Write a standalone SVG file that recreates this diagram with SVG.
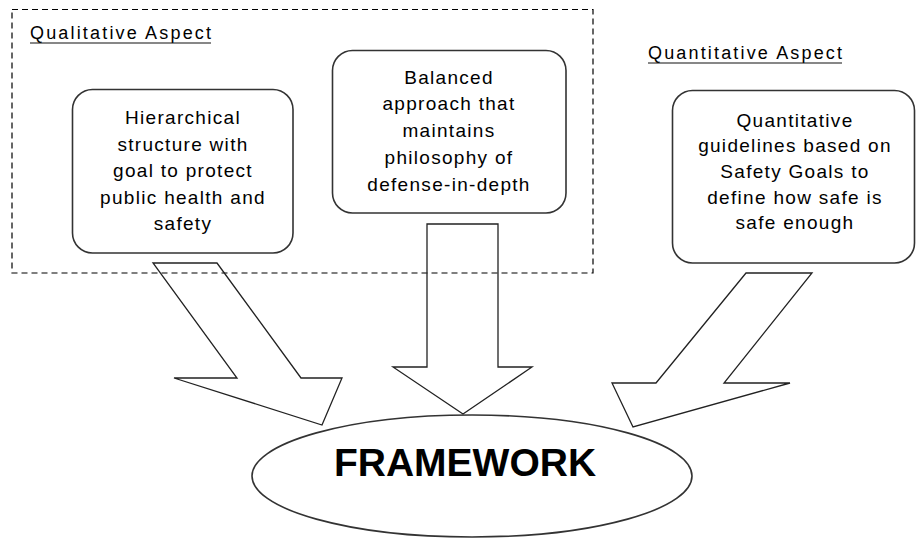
<svg xmlns="http://www.w3.org/2000/svg" width="916" height="540" viewBox="0 0 916 540">
<style>
.bg{fill:#ffffff}
.group{fill:none;stroke:#000;stroke-width:1.2;stroke-dasharray:6,4}
.box{fill:none;stroke:#333;stroke-width:1.6}
.arrow{fill:none;stroke:#222;stroke-width:1.3;stroke-linejoin:miter}
.t{font-family:"Liberation Sans",Arial,sans-serif;font-size:19px;letter-spacing:1.3px;fill:#000;text-anchor:middle}
.h{font-family:"Liberation Sans",Arial,sans-serif;font-size:18px;fill:#000}
.ul{stroke:#111;stroke-width:1.2}
.big{font-family:"Liberation Sans",Arial,sans-serif;font-size:39px;font-weight:bold;fill:#000;text-anchor:middle}
</style>
<rect class="bg" x="0" y="0" width="916" height="540"/>
<g id="qualitative-group">
<rect class="group" x="12" y="9.5" width="581" height="263.5"/>
<text class="h" x="30" y="39" textLength="181" lengthAdjust="spacing">Qualitative Aspect</text>
<line class="ul" x1="30" y1="43" x2="211" y2="43"/>
</g>
<g id="quantitative-label">
<text class="h" x="648" y="59" textLength="194" lengthAdjust="spacing">Quantitative Aspect</text>
<line class="ul" x1="648" y1="63" x2="842" y2="63"/>
</g>
<g id="node-hierarchical">
<rect class="box" x="72.5" y="89.5" width="220.5" height="163.5" rx="20" ry="20"/>
<text class="t" x="183" y="124">Hierarchical</text>
<text class="t" x="183" y="150.5">structure with</text>
<text class="t" x="183" y="177">goal to protect</text>
<text class="t" x="183" y="203.5">public health and</text>
<text class="t" x="183" y="230">safety</text>
</g>
<g id="node-balanced">
<rect class="box" x="332.5" y="50.5" width="233.5" height="162.5" rx="20" ry="20"/>
<text class="t" x="449" y="83.5">Balanced</text>
<text class="t" x="449" y="110">approach that</text>
<text class="t" x="449" y="136.5">maintains</text>
<text class="t" x="449" y="163.5">philosophy of</text>
<text class="t" x="449" y="190.5">defense-in-depth</text>
</g>
<g id="node-quantitative">
<rect class="box" x="672.5" y="90.5" width="242" height="172.5" rx="20" ry="20"/>
<text class="t" x="795" y="127">Quantitative</text>
<text class="t" x="795" y="152">guidelines based on</text>
<text class="t" x="795" y="177.5">Safety Goals to</text>
<text class="t" x="795" y="203.5">define how safe is</text>
<text class="t" x="795" y="228.5">safe enough</text>
</g>
<g id="node-framework">
<ellipse class="box" cx="472" cy="476" rx="220" ry="61"/>
<text class="big" x="465" y="476">FRAMEWORK</text>
</g>
<g id="connectors">
<polygon class="arrow" points="153,263 217,263 301,378 342,378 322,425 174,378 237,378"/>
<polygon class="arrow" points="427,224 498,224 498,367 532,367 463,414 393,367 427,367"/>
<polygon class="arrow" points="746,273 812,273 724,383 790,383 633,427 612,383 656,383"/>
</g>
</svg>
